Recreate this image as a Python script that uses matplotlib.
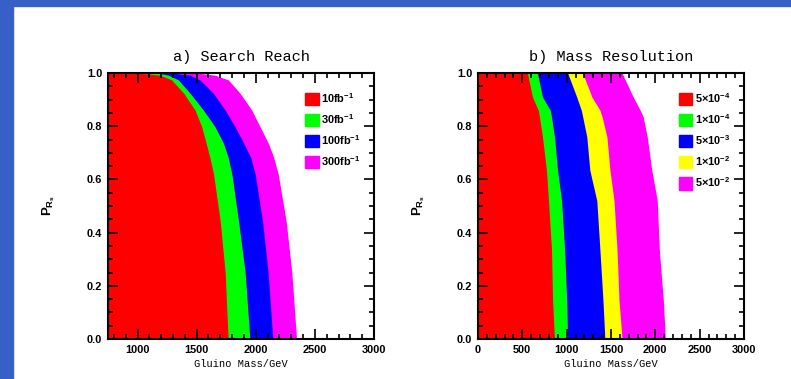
import numpy as np
import matplotlib.pyplot as plt
from matplotlib.patches import Patch, Rectangle
from matplotlib.ticker import MultipleLocator

###############################################################################
# data: mass (GeV) of each band edge at given P values

P_left = [0.0, 0.25, 0.44, 0.62, 0.685, 0.736, 0.798, 0.861, 0.924, 0.974,
          0.992, 1.0]
m10fb = [1766, 1741, 1700, 1643, 1610, 1580, 1543, 1486, 1390, 1289, 1190,
         993]
m30fb = [1950, 1910, 1855, 1798, 1765, 1726, 1655, 1556, 1444, 1345, 1260,
         1162]
m100fb = [2144, 2104, 2058, 1995, 1955, 1898, 1824, 1740, 1641, 1528, 1444,
          1274]
m300fb = [2345, 2305, 2258, 2190, 2150, 2106, 2036, 1965, 1867, 1768, 1655,
          1500]
left_labels = [r'10fb$^{-1}$', r'30fb$^{-1}$', r'100fb$^{-1}$', r'300fb$^{-1}$']

P_right = [0.0, 0.147, 0.335, 0.52, 0.635, 0.76, 0.835, 0.86, 0.91, 1.0]
m5e4 = [863, 841, 829, 795, 772, 727, 693, 680, 614, 557]
m1e4 = [1011, 1000, 977, 943, 897, 863, 829, 815, 727, 670]
m5e3 = [1431, 1409, 1375, 1340, 1261, 1227, 1181, 1165, 1113, 1011]
m1e2 = [1625, 1590, 1568, 1534, 1488, 1454, 1400, 1375, 1284, 1181]
m5e2 = [2113, 2090, 2045, 2022, 1960, 1909, 1863, 1830, 1750, 1625]
right_labels = [r'5$\times$10$^{-4}$', r'1$\times$10$^{-4}$',
                r'5$\times$10$^{-3}$', r'1$\times$10$^{-2}$',
                r'5$\times$10$^{-2}$']

###############################################################################

plt.rcParams['mathtext.fontset'] = 'custom'
plt.rcParams['mathtext.rm'] = 'Liberation Sans:bold'
plt.rcParams['mathtext.it'] = 'Liberation Sans:bold'
plt.rcParams['mathtext.bf'] = 'Liberation Sans:bold'

tickfont = dict(family='Liberation Sans', weight='bold', size=7.9)
monofont = 'Liberation Mono'

fig = plt.figure(figsize=(7.91, 3.79), dpi=100)
fig.patches.append(Rectangle((0, 0), 13/791, 1, transform=fig.transFigure,
                             color='#3760c6', zorder=0))
fig.patches.append(Rectangle((0, 1-6/379), 1, 6/379, transform=fig.transFigure,
                             color='#3760c6', zorder=0))

ax1 = fig.add_axes([108/791, 40/379, 266/791, 266/379])
ax2 = fig.add_axes([478/791, 40/379, 266/791, 266/379])


def setup(ax, xlim, title, xmajor, xminor):
    ax.set_xlim(*xlim)
    ax.set_ylim(0, 1)
    ax.xaxis.set_major_locator(MultipleLocator(xmajor))
    ax.xaxis.set_minor_locator(MultipleLocator(xminor))
    ax.yaxis.set_major_locator(MultipleLocator(0.2))
    ax.yaxis.set_minor_locator(MultipleLocator(0.05))
    ax.tick_params(which='both', direction='in', top=True, right=True,
                   width=1.2, pad=4)
    ax.tick_params(which='major', length=7)
    ax.tick_params(which='minor', length=3.5)
    ax.yaxis.set_major_formatter(plt.FormatStrFormatter('%.1f'))
    for lab in ax.get_xticklabels() + ax.get_yticklabels():
        lab.set_fontproperties(tickfont)
    for sp in ax.spines.values():
        sp.set_linewidth(1.5)
    ax.set_title(title, family=monofont, fontsize=11, pad=9)
    ax.set_xlabel('Gluino Mass/GeV', family=monofont, fontsize=7.5,
                  labelpad=3)
    ax.set_ylabel(r'$P_{R_s}$', fontsize=9.5, labelpad=22)


setup(ax1, (750, 3000), 'a) Search Reach', 500, 100)
setup(ax2, (0, 3000), 'b) Mass Resolution', 500, 100)

left_colors = ['#ff0000', '#00ff00', '#0000ff', '#ff00ff']
left_sets = [m10fb, m30fb, m100fb, m300fb]
for m, c in list(zip(left_sets, left_colors))[::-1]:
    ax1.fill_betweenx(P_left, 0, m, color=c, lw=0)

right_colors = ['#ff0000', '#00ff00', '#0000ff', '#ffff00', '#ff00ff']
right_sets = [m5e4, m1e4, m5e3, m1e2, m5e2]
for m, c in list(zip(right_sets, right_colors))[::-1]:
    ax2.fill_betweenx(P_right, 0, m, color=c, lw=0)

for ax, labels, colors in [(ax1, left_labels, left_colors),
                           (ax2, right_labels, right_colors)]:
    handles = [Patch(color=c) for c in colors]
    ax.legend(handles, labels, loc='upper right', frameon=False,
              prop=dict(family='Liberation Sans', weight='bold', size=7.9),
              handlelength=1.25, handleheight=1.35, handletextpad=0.2,
              labelspacing=0.62, borderaxespad=0.5,
              bbox_to_anchor=(0.985, 0.97))

fig.savefig('out.png', dpi=100)
